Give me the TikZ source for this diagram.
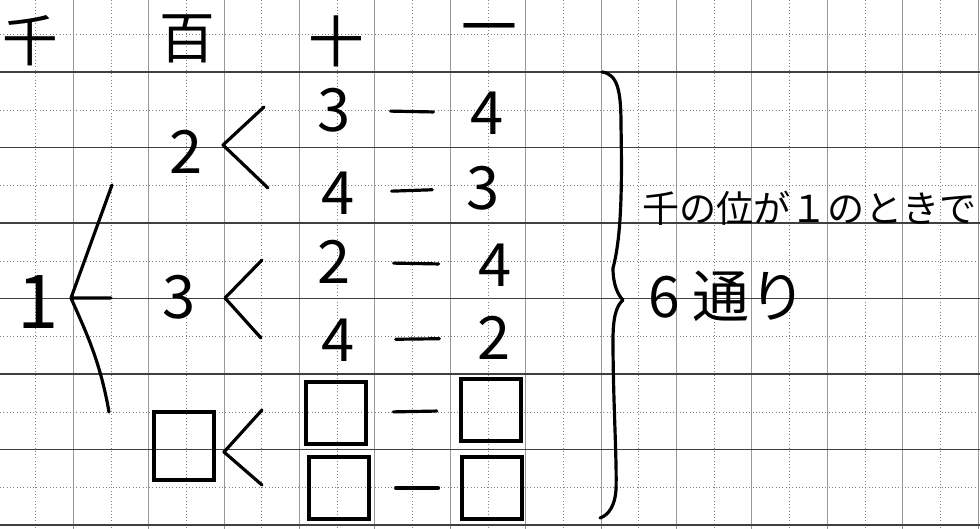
\documentclass[tikz,border=0pt]{standalone}
\usepackage{fontspec}
\setmainfont{Noto Sans CJK JP}
\usetikzlibrary{calc}

\begin{document}
\begin{tikzpicture}[x=0.0265cm,y=-0.0265cm,
        hline/.style={black!75,line width=0.9pt},
        vline/.style={black!40,line width=0.7pt},
        half/.style={black!50,dotted,line width=0.5pt},
        head/.style={inner sep=0pt,font=\fontsize{42}{46}\selectfont},
        digit/.style={inner sep=0pt,font=\fontsize{45}{48}\selectfont},
        blank/.style={draw,line width=2.6pt,inner sep=0pt,minimum width=1.6cm,minimum height=1.65cm},
        branch/.style={line width=2.4pt,line cap=round,line join=round},
        note/.style={inner sep=0pt,anchor=west,font=\fontsize{28}{30}\selectfont},
        result/.style={inner sep=0pt,anchor=west,font=\fontsize{43}{46}\selectfont}]
        \fill[white] (0,0) rectangle (980,529);
        \useasboundingbox (0,0) rectangle (980,529);
        \foreach \i in {0,...,12}{
                \draw[half] (35.6+75.4*\i,0)--(35.6+75.4*\i,529);
                \draw[vline] (73.3+75.4*\i,0)--(73.3+75.4*\i,529);
        }
        \foreach \j in {0,...,6}{
                \draw[half] (0,34.5+75.5*\j)--(980,34.5+75.5*\j);
                \draw[hline] (0,72+75.5*\j)--(980,72+75.5*\j);
        }

        \draw (30,41) node[head] (thou) {千};
        \draw (187,39) node[head] (hund) {百};
        \draw (336,41) node[head] (tens) {十};
        \draw (489,35) node[head] (ones) {一};

        \draw (38,302) node[digit,font=\fontsize{56}{60}\selectfont] (r) {1};
        \draw (186,152) node[digit] (h2) {2};
        \draw (179,297) node[digit] (h3) {3};
        \draw (184,446) node[blank,minimum height=1.8cm] (hb) {};

        \draw (334,110) node[digit] (t1) {3};
        \draw (487,113) node[digit] (o1) {4};
        \draw (338,193) node[digit] (t2) {4};
        \draw (483,188) node[digit] (o2) {3};
        \draw (334,262) node[digit] (t3) {2};
        \draw (495,265) node[digit] (o3) {4};
        \draw (338,340) node[digit] (t4) {4};
        \draw (494,338) node[digit] (o4) {2};
        \draw (336,413) node[blank] (t5) {};
        \draw (491,410) node[blank] (o5) {};
        \draw (339,488) node[blank] (t6) {};
        \draw (492,488) node[blank] (o6) {};

        \foreach \r in {1,...,6}
                \draw[branch] ($(t\r)!0.37!(o\r)$)--($(t\r)!0.65!(o\r)$);

        \draw[branch] ($(h2)+(-74,33)$)--($(r)+(33,-4)$)--($(h3)+(-68,1)$);
        \draw[branch] ($(r)+(33,-4)$) .. controls ($(r)+(47,28)$) and ($(r)+(62,58)$) .. ($(hb)+(-75,-34)$);
        \draw[branch] ($(t1)+(-70,-3)$)--($(h2)+(37,-7)$)--($(t2)+(-70,-5)$);
        \draw[branch] ($(t3)+(-72,-2)$)--($(h3)+(46,1)$)--($(t4)+(-77,-2)$);
        \draw[branch] ($(t5)+(-74,-3)$)--($(hb)+(40,6)$)--($(t6)+(-77,-3)$);

        \draw[branch] (602,72) .. controls (618,74) and (621,92) .. (621,125)
        .. controls (622,180) and (622,235) .. (613,268)
        .. controls (613,285) and (618,295) .. (623,300)
        .. controls (616,306) and (613,318) .. (613,340)
        .. controls (613,400) and (617,460) .. (616,490)
        .. controls (615,505) and (609,515) .. (600,518);

        \draw (642,208) node[note] (cond) {千の位が１のときで};
        \draw (648,296) node[result] (count) {6 通り};
\end{tikzpicture}
\end{document}
